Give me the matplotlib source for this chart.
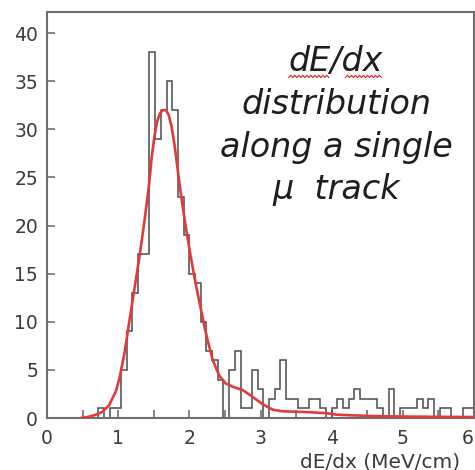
import numpy as np
import matplotlib
matplotlib.use("Agg")
import matplotlib.pyplot as plt

# ---- data ----
bin_width = 0.08
x_min, x_max = 0.0, 6.0
counts = [0, 0, 0, 0, 0, 0, 0, 0, 0, 1,
          0, 1, 1, 5, 9, 13, 17, 17, 38, 29,
          32, 35, 32, 23, 19, 15, 14, 10, 7, 6,
          4, 0, 5, 7, 1, 1, 5, 3, 0, 2,
          3, 6, 2, 2, 1, 1, 2, 2, 1, 0,
          1, 2, 1, 2, 3, 2, 2, 2, 1, 0,
          3, 0, 1, 1, 1, 2, 1, 2, 0, 1,
          1, 0, 0, 1, 1]

fit_x = [0.47, 0.57, 0.67, 0.77, 0.87, 0.97, 1.02, 1.09, 1.16, 1.23,
         1.30, 1.37, 1.43, 1.47, 1.51, 1.55, 1.59, 1.63, 1.67, 1.71,
         1.75, 1.79, 1.83, 1.87, 1.91, 1.96, 2.01, 2.06, 2.11, 2.16,
         2.21, 2.26, 2.33, 2.42, 2.51, 2.61, 2.75, 2.89, 2.97, 3.04,
         3.11, 3.18, 3.31, 3.51, 3.70, 3.93, 4.06, 4.26, 4.61, 5.01,
         5.51, 6.00]
fit_y = [0.0, 0.1, 0.3, 0.6, 1.3, 2.8, 4.2, 6.8, 10.2, 13.5,
         16.8, 20.5, 24.0, 27.0, 29.3, 30.9, 31.7, 32.0, 32.0, 31.5,
         30.3, 28.5, 26.2, 23.9, 21.8, 19.4, 17.2, 15.1, 13.2, 11.4,
         9.6, 8.0, 6.0, 4.4, 3.6, 3.25, 2.9, 2.2, 1.75, 1.4,
         1.1, 0.85, 0.7, 0.65, 0.6, 0.5, 0.35, 0.28, 0.2, 0.15,
         0.12, 0.1]

x_ticks_major = [0, 1, 2, 3, 4, 5, 6]
x_ticks_minor = [0.5, 1.5, 2.5, 3.5, 4.5, 5.5]
y_ticks = [0, 5, 10, 15, 20, 25, 30, 35, 40]
x_label = "dE/dx (MeV/cm)"
note_lines = ["dE/dx", "distribution", "along a single", "\u03bc  track"]

# ---- figure ----
W, H = 475, 470
fig = plt.figure(figsize=(W / 100, H / 100), dpi=100)
ax = fig.add_axes([47 / W, (H - 418) / H, 427 / W, (418 - 12) / H])

edges = x_min + bin_width * np.arange(len(counts) + 1)
ax.stairs(counts, edges, color="#4a4a4a", lw=1.1, zorder=2)
ax.plot(fit_x, fit_y, color="#e23a3a", lw=1.9, zorder=3,
        solid_capstyle="round", solid_joinstyle="round")

ax.set_xlim(x_min, x_max)
ax.set_ylim(0, 42.2)

spine_c = "#6e6e6e"
for s in ax.spines.values():
    s.set_color(spine_c)
    s.set_linewidth(1.5)

ax.set_xticks(x_ticks_major)
ax.set_xticks(x_ticks_minor, minor=True)
ax.set_yticks(y_ticks)
tick_font = "DejaVu Sans"
ax.tick_params(axis="both", which="both", direction="in", length=6, width=1.2,
               color=spine_c, labelcolor="#3a3a3a")
ax.tick_params(axis="x", which="major", pad=8)
ax.tick_params(axis="y", which="major", pad=6.5)
for lab in ax.get_xticklabels() + ax.get_yticklabels():
    lab.set_fontfamily(tick_font)
    lab.set_fontsize(13.5)
ax.get_xticklabels()[-1].set_horizontalalignment("right")

fig.text(300 / W, 1 - 467 / H, x_label, ha="left", va="baseline",
         fontsize=14.5, family=tick_font, color="#3a3a3a")

note_y = [62, 104, 147, 190]
texts = []
for line, yy in zip(note_lines, note_y):
    t = fig.text(336 / W, 1 - yy / H, line, ha="center", va="center",
                 fontsize=24, style="italic", color="#1e1e1e",
                 family=["DejaVu Sans"])
    texts.append(t)

# red spell-check squiggle under "dE" and "dx"
fig.canvas.draw()
bb = texts[0].get_window_extent()
for f0, f1 in [(0.0, 0.44), (0.6, 1.0)]:
    xs = np.arange(bb.x0 + f0 * bb.width, bb.x0 + f1 * bb.width, 2.0)
    ys = bb.y0 + 1 + np.where(np.arange(len(xs)) % 2 == 0, 0.0, 2.2)
    fig.add_artist(plt.Line2D(xs / W, ys / H, color="#e02020", lw=0.8))

fig.savefig("out.png", dpi=100)
